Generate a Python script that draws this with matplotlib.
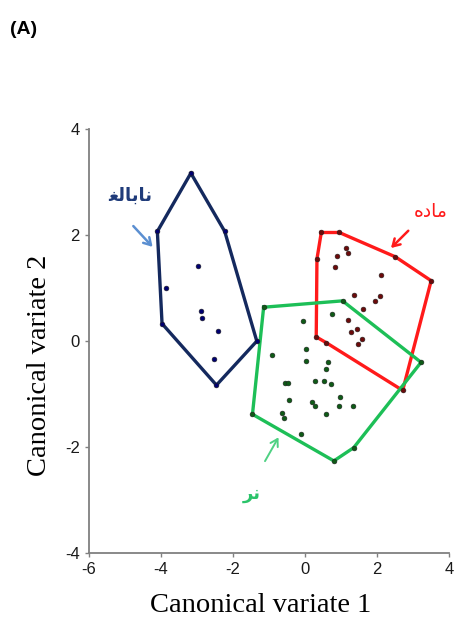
import matplotlib
matplotlib.use("Agg")
import matplotlib.pyplot as plt
import numpy as np

plt.rcParams["axes.unicode_minus"] = False

# group hulls (vertices) and interior scores, canonical variate 1 / 2
IMM_HULL_X = [-3.17, -2.23, -1.34, -2.46, -3.97, -4.10]
IMM_HULL_Y = [3.17, 2.07, 0.00, -0.83, 0.33, 2.07]
IMM_PTS_X = [-2.97, -3.87, -2.89, -2.87, -2.41, -2.54]
IMM_PTS_Y = [1.41, 1.00, 0.57, 0.44, 0.20, -0.34]

FEM_HULL_X = [0.45, 0.95, 2.51, 3.50, 2.71, 0.59, 0.31, 0.33]
FEM_HULL_Y = [2.05, 2.05, 1.59, 1.14, -0.93, -0.03, 0.08, 1.55]
FEM_PTS_X = [0.89, 1.15, 1.18, 0.84, 2.12, 1.37, 2.08, 1.95, 1.62, 1.20, 1.44, 1.27, 1.57, 1.48]
FEM_PTS_Y = [1.61, 1.76, 1.66, 1.39, 1.25, 0.88, 0.85, 0.76, 0.61, 0.39, 0.23, 0.17, 0.04, -0.05]

MAL_HULL_X = [-1.15, 1.04, 3.22, 1.35, 0.80, -1.46]
MAL_HULL_Y = [0.64, 0.76, -0.40, -2.01, -2.26, -1.38]
MAL_PTS_X = [-0.05, 0.75, -0.91, 0.03, 0.03, 0.65, 0.57, -0.56, -0.48, 0.28, 0.52, 0.73,
             -0.44, 0.19, 0.28, 0.97, 0.94, 1.33, -0.65, -0.58, 0.57, -0.10]
MAL_PTS_Y = [0.38, 0.52, -0.27, -0.15, -0.37, -0.39, -0.52, -0.79, -0.79, -0.76, -0.76, -0.80,
             -1.11, -1.14, -1.23, -1.06, -1.23, -1.23, -1.36, -1.45, -1.38, -1.75]

# Persian labels, pre-shaped (presentation forms, visual order)
LBL_IMM = "\uFED0\uFEDF\uFE8E\uFE91\uFE8E\uFEE7"   # نابالغ
LBL_FEM = "\uFEE9\uFEA9\uFE8E\uFEE3"               # ماده
LBL_MAL = "\uFEAE\uFEE7"                           # نر

GROUPS = [
    (IMM_HULL_X, IMM_HULL_Y, IMM_PTS_X, IMM_PTS_Y, "#14295e", "#000070"),
    (FEM_HULL_X, FEM_HULL_Y, FEM_PTS_X, FEM_PTS_Y, "#ff1a1a", "#6b0a0a"),
    (MAL_HULL_X, MAL_HULL_Y, MAL_PTS_X, MAL_PTS_Y, "#1dbf57", "#0e5a16"),
]

fig = plt.figure(figsize=(4.56, 6.18), dpi=100)
ax = fig.add_axes([0.195, 0.105, 0.79, 0.686])

for hx, hy, px, py, lc, dc in GROUPS:
    ax.plot(hx + hx[:1], hy + hy[:1], color=lc, lw=2.4, solid_joinstyle="miter", zorder=2)
    ax.scatter(list(px) + list(hx), list(py) + list(hy), s=12, facecolor=dc,
               edgecolors="#222222", linewidths=0.4, zorder=3)

# group labels with pointer arrows
ax.annotate("", xy=(-4.18, 1.74), xytext=(-4.82, 2.21),
            arrowprops=dict(arrowstyle="->,head_length=0.5,head_width=0.3",
                            color="#5b8fd1", lw=1.8))
ax.text(-4.86, 2.75, LBL_IMM, color="#1f3b7a", fontsize=13, fontweight="bold",
        ha="center", va="center", family="DejaVu Sans")

ax.annotate("", xy=(2.33, 1.72), xytext=(2.92, 2.12),
            arrowprops=dict(arrowstyle="->,head_length=0.5,head_width=0.3",
                            color="#ff1a1a", lw=1.8))
ax.text(3.49, 2.45, LBL_FEM, color="#ff1a1a", fontsize=13.5,
        ha="center", va="center", family="DejaVu Sans")

ax.annotate("", xy=(-0.70, -1.77), xytext=(-1.15, -2.31),
            arrowprops=dict(arrowstyle="->,head_length=0.5,head_width=0.3",
                            color="#4fd183", lw=1.4))
ax.text(-1.48, -2.88, LBL_MAL, color="#2bc46a", fontsize=13, fontweight="bold",
        ha="center", va="center", family="DejaVu Sans")

ax.set_xlim(-6, 4)
ax.set_ylim(-4, 4)
ax.set_xticks([-6, -4, -2, 0, 2, 4])
ax.set_yticks([-4, -2, 0, 2, 4])
for s in ("top", "right"):
    ax.spines[s].set_visible(False)
for s in ("left", "bottom"):
    ax.spines[s].set_color("#808080")
    ax.spines[s].set_linewidth(1.3)
ax.tick_params(direction="out", length=3, width=1, color="#808080",
               labelsize=12, labelcolor="#1a1a1a")
for lab in ax.get_xticklabels() + ax.get_yticklabels():
    lab.set_family("Liberation Sans")

ax.set_xlabel("Canonical variate 1", family="Liberation Serif", fontsize=20.5)
ax.set_ylabel("Canonical variate 2", family="Liberation Serif", fontsize=20.5)
ax.xaxis.label.set_va("center")
ax.yaxis.label.set_va("center")
ax.xaxis.set_label_coords(0.478, -0.124)
ax.yaxis.set_label_coords(-0.136, 0.443)

fig.text(0.022, 0.953, "(A)", fontsize=14, fontweight="bold", family="Liberation Sans",
         ha="left", va="center")

fig.savefig("out.png", facecolor="white")
